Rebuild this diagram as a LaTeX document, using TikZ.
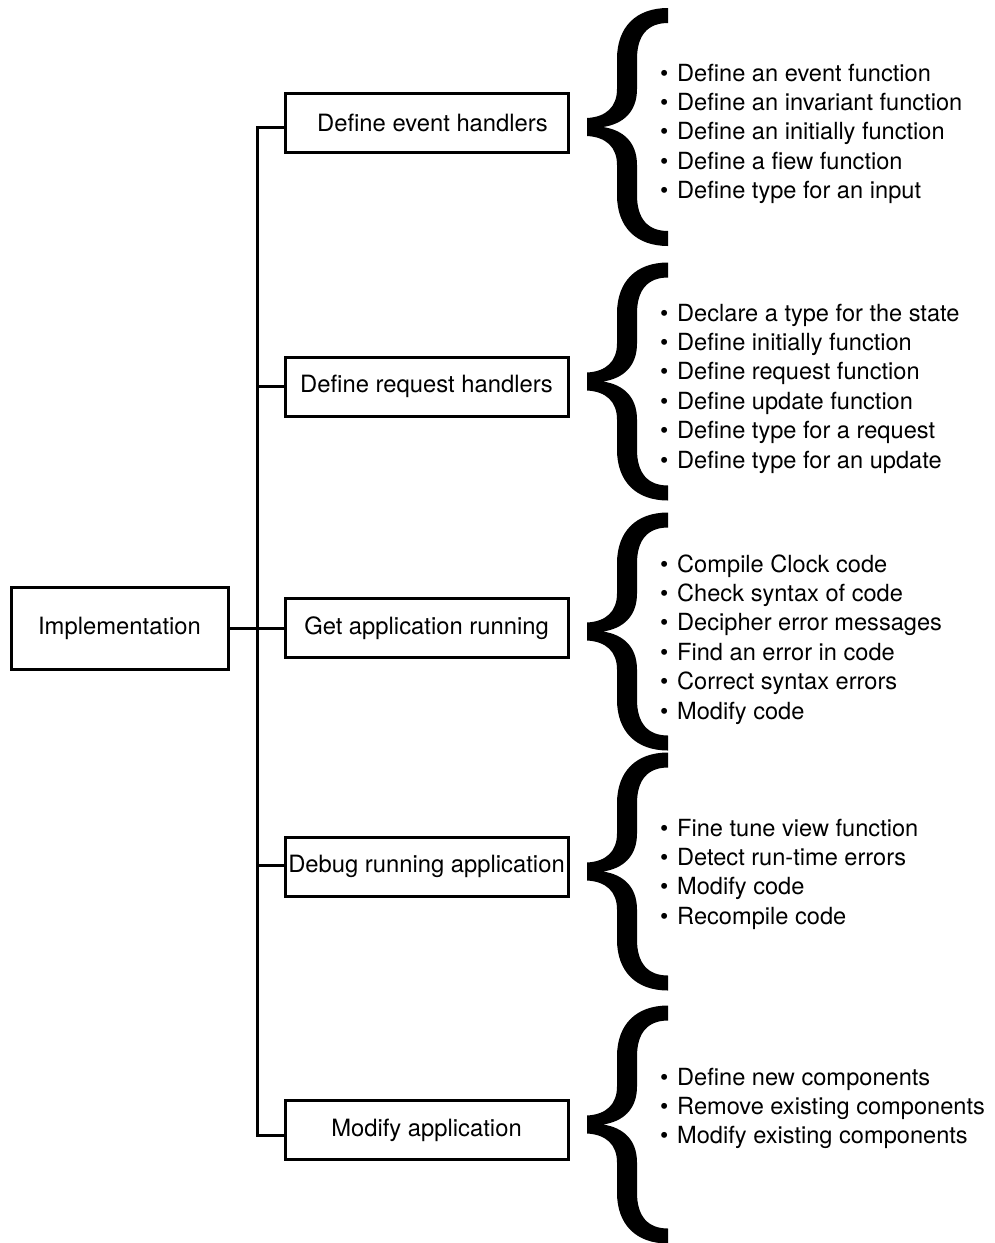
\documentclass[tikz,border=0pt]{standalone}
\usepackage{fontspec}
\setmainfont{TeX Gyre Heros}
% bullet with a fixed gap before the item text
\newcommand\bul{\makebox[17pt][l]{\textbullet}}
% a block of bullet lines, first baseline on the node's base
\newcommand\itemblock[1]{\parbox[t]{340pt}{\fontsize{23.6}{29.4}\selectfont\raggedright #1}}
\begin{document}
\begin{tikzpicture}[x=1pt,y=-1pt,
  conn/.style={line width=3pt,line join=miter},
  stepbox/.style={draw,line width=3pt,minimum width=283pt,minimum height=59pt,
    inner sep=0pt,font=\fontsize{23.8}{28}\selectfont},
  rootbox/.style={draw,line width=3pt,minimum width=217pt,minimum height=82pt,
    inner sep=0pt,font=\fontsize{23.8}{28}\selectfont},
  itemlist/.style={anchor=base west,inner sep=0pt},
  curlybrace/.pic={
    \fill (0,-119) .. controls (-32,-119) and (-51,-100) .. (-51,-68)
      -- (-51,-38) .. controls (-51,-20) and (-62,-10) .. (-81,-9)
      -- (-81,9) .. controls (-62,10) and (-51,20) .. (-51,38)
      -- (-51,68) .. controls (-51,100) and (-32,119) .. (0,119)
      -- (0,104) .. controls (-20,104) and (-31,92) .. (-31,68)
      -- (-31,38) .. controls (-31,15) and (-45,3) .. (-65,0)
      .. controls (-45,-3) and (-31,-15) .. (-31,-38)
      -- (-31,-68) .. controls (-31,-92) and (-20,-104) .. (0,-104)
      -- cycle;
  }]
\useasboundingbox (0,0) rectangle (994,1243);
\fill[white] (0,0) rectangle (994,1243);

% root and the five steps
\node[rootbox] (impl) at (119.5,628) {Implementation};
\node[stepbox] (b1) at (426.5,122.5) {\hspace*{12pt}Define event handlers};
\node[stepbox] (b2) at (426.5,386.5) {Define request handlers};
\node[stepbox] (b3) at (426.5,628) {Get application running};
\node[stepbox] (b4) at (426.5,866.5) {Debug running application};
\node[stepbox] (b5) at (426.5,1130) {Modify application};

% trunk junctions
\coordinate (j1) at (257,127);
\coordinate (j2) at (257,386);
\coordinate (j4) at (257,865);
\coordinate (j5) at (257,1135);

\draw[conn] (j1 -| b1.west) -- (j1) -- (j5) -- (j5 -| b5.west);
\draw[conn] (j2) -- (j2 -| b2.west);
\draw[conn] (j4) -- (j4 -| b4.west);
\draw[conn] (impl.east) -- (b3.west);

% braces
\pic at (668,127) {curlybrace};
\pic at (668,381.5) {curlybrace};
\pic at (668,631.5) {curlybrace};
\pic at (668,871.5) {curlybrace};
\pic at (668,1124.5) {curlybrace};

% item lists
\node[itemlist] (l1) at (660,81) {\itemblock{%
  \bul Define an event function\\
  \bul Define an invariant function\\
  \bul Define an initially function\\
  \bul Define a fiew function\\
  \bul Define type for an input}};
\node[itemlist] (l2) at (660,321) {\itemblock{%
  \bul Declare a type for the state\\
  \bul Define initially function\\
  \bul Define request function\\
  \bul Define update function\\
  \bul Define type for a request\\
  \bul Define type for an update}};
\node[itemlist] (l3) at (660,572) {\itemblock{%
  \bul Compile Clock code\\
  \bul Check syntax of code\\
  \bul Decipher error messages\\
  \bul Find an error in code\\
  \bul Correct syntax errors\\
  \bul Modify code}};
\node[itemlist] (l4) at (660,836) {\itemblock{%
  \bul Fine tune view function\\
  \bul Detect run-time errors\\
  \bul Modify code\\
  \bul Recompile code}};
\node[itemlist] (l5) at (660,1085) {\itemblock{%
  \bul Define new components\\
  \bul Remove existing components\\
  \bul Modify existing components}};
\end{tikzpicture}
\end{document}
